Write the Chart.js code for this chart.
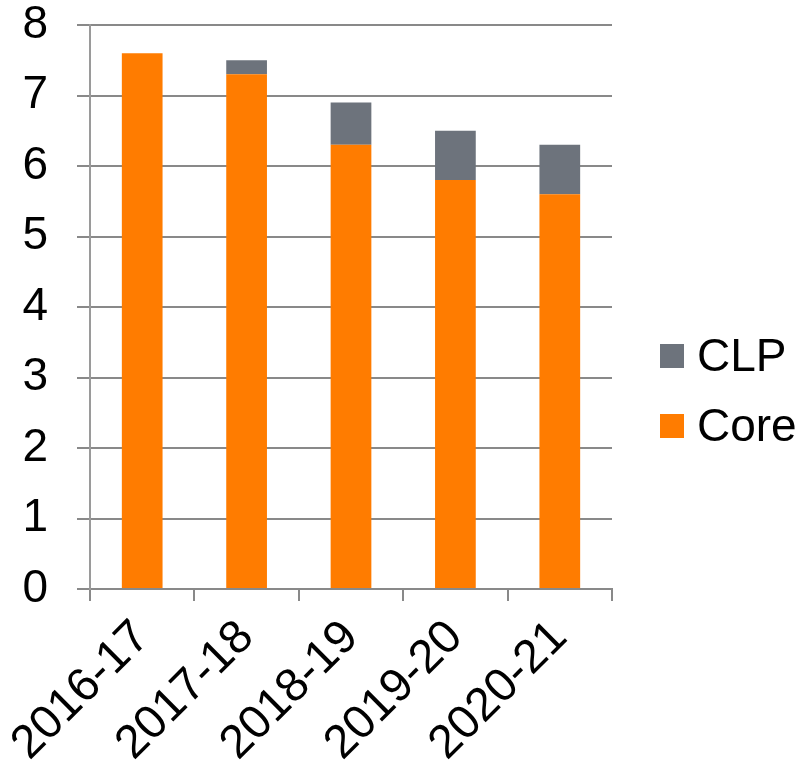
<!DOCTYPE html>
<html>
<head>
<meta charset="utf-8">
<script src="https://cdn.jsdelivr.net/npm/chart.js@4.4.0/dist/chart.umd.min.js"></script>
<style>
  html, body { margin: 0; padding: 0; background: #fff; }
  #wrap { width: 802px; height: 774px; }
</style>
</head>
<body>
<div id="wrap"><canvas id="grafico"></canvas></div>
<script>
// Años del periodo
const periodos = ['2016-17', '2017-18', '2018-19', '2019-20', '2020-21'];
// Valores por serie
const valoresCore = [7.6, 7.3, 6.3, 5.8, 5.6];
const valoresCLP = [0, 0.2, 0.6, 0.7, 0.7];
const ticksY = [0, 1, 2, 3, 4, 5, 6, 7, 8];

const fuente = "'Liberation Sans', Arial, sans-serif";
const gris = '#898989';

// Leyenda a la derecha, en orden inverso (CLP arriba)
const leyendaLateral = {
  id: 'leyendaLateral',
  afterDraw(chart) {
    const ctx = chart.ctx;
    const items = chart.data.datasets.slice().reverse();
    ctx.save();
    ctx.font = '46px ' + fuente;
    ctx.textBaseline = 'middle';
    ctx.textAlign = 'left';
    items.forEach((ds, i) => {
      const y = 356 + i * 70;
      ctx.fillStyle = ds.backgroundColor;
      ctx.fillRect(660, y - 12, 24, 24);
      ctx.fillStyle = '#000';
      ctx.fillText(ds.label, 697, y + 2);
    });
    ctx.restore();
  }
};

new Chart(document.getElementById('grafico'), {
  type: 'bar',
  data: {
    labels: periodos,
    datasets: [
      { label: 'Core', data: valoresCore, backgroundColor: '#FF7C00', barPercentage: 0.39, categoryPercentage: 1 },
      { label: 'CLP', data: valoresCLP, backgroundColor: '#6D737C', barPercentage: 0.39, categoryPercentage: 1 }
    ]
  },
  options: {
    responsive: true,
    maintainAspectRatio: false,
    animation: false,
    layout: { padding: { top: 25, right: 190, left: 0, bottom: 0 } },
    plugins: { legend: { display: false }, tooltip: { enabled: false } },
    scales: {
      x: {
        stacked: true,
        grid: { offset: true, drawOnChartArea: false, color: gris, lineWidth: 2, tickLength: 12 },
        border: { color: gris, width: 2 },
        ticks: { color: '#000', font: { family: fuente, size: 47 }, maxRotation: 45, minRotation: 45, padding: 9 },
        afterFit(scale) { scale.height = 185; scale.paddingLeft = 0; scale.paddingRight = 0; }
      },
      y: {
        stacked: true,
        min: 0,
        max: 8,
        afterBuildTicks(scale) { scale.ticks = ticksY.map(v => ({ value: v })); },
        grid: { color: gris, lineWidth: 2, tickLength: 13 },
        border: { color: '#9a9a9a', width: 2 },
        ticks: { color: '#000', font: { family: fuente, size: 46 }, padding: 29 },
        afterFit(scale) { scale.width = 90; scale.paddingTop = 0; scale.paddingBottom = 0; }
      }
    }
  },
  plugins: [leyendaLateral]
});
</script>
</body>
</html>
